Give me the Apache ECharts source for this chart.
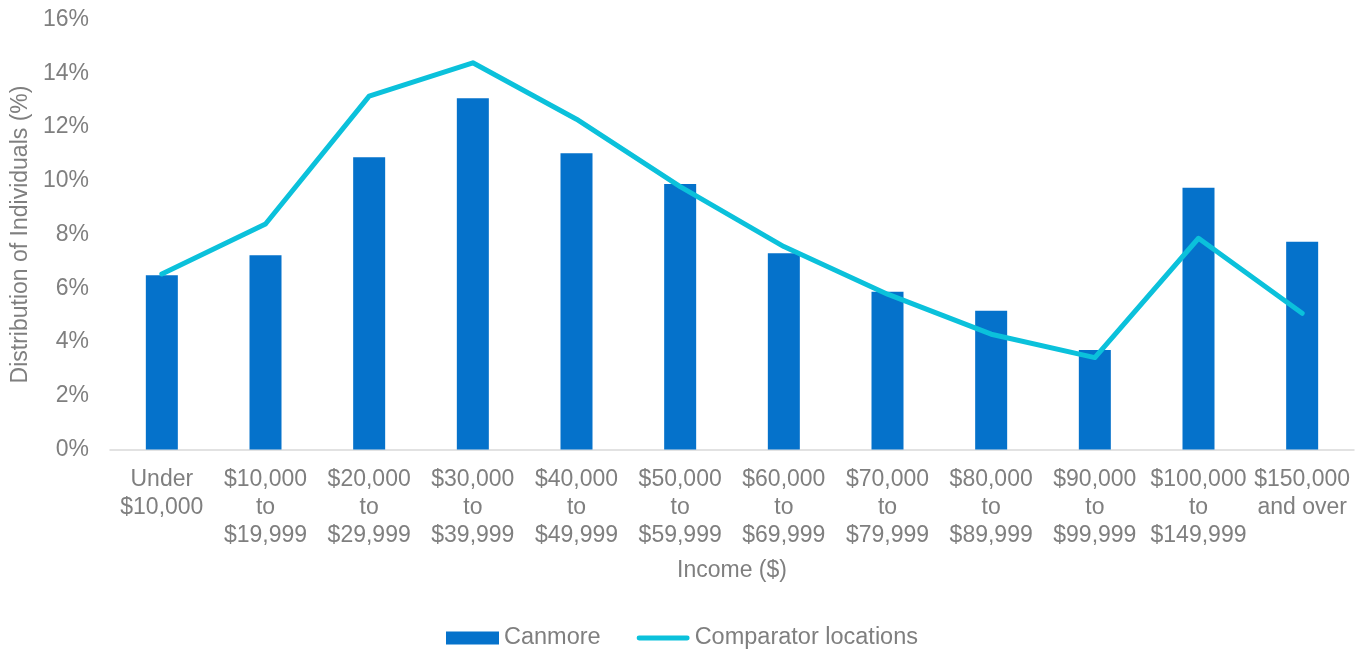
<!DOCTYPE html>
<html>
<head>
<meta charset="utf-8">
<script src="https://cdn.jsdelivr.net/npm/echarts@6/dist/echarts.min.js"></script>
<style>
html,body{margin:0;padding:0;background:#fff;}
#chart{width:1364px;height:651px;}
</style>
</head>
<body>
<div id="chart"></div>
<script>
const categories = [
  'Under\n$10,000', '$10,000\nto\n$19,999', '$20,000\nto\n$29,999', '$30,000\nto\n$39,999',
  '$40,000\nto\n$49,999', '$50,000\nto\n$59,999', '$60,000\nto\n$69,999', '$70,000\nto\n$79,999',
  '$80,000\nto\n$89,999', '$90,000\nto\n$99,999', '$100,000\nto\n$149,999', '$150,000\nand over'
];
const canmore = [6.48, 7.23, 10.87, 13.07, 11.02, 9.88, 7.30, 5.87, 5.16, 3.70, 9.74, 7.73];
const comparator = [6.53, 8.39, 13.15, 14.39, 12.29, 9.78, 7.55, 5.78, 4.29, 3.42, 7.86, 5.07];
const yTicks = { min: 0, max: 16, interval: 2 };

const textColor = '#7F7F7F';
const fontFamily = 'Liberation Sans, Arial, sans-serif';
const chart = echarts.init(document.getElementById('chart'));
chart.setOption({
  animation: false,
  textStyle: { fontFamily: fontFamily },
  grid: { left: 110, right: 10, top: 19.5, bottom: 201.5, containLabel: false },
  legend: {
    left: 'center',
    top: 621,
    itemWidth: 53,
    itemHeight: 13,
    itemGap: 36,
    symbolKeepAspect: true,
    textStyle: { color: textColor, fontSize: 23.5, fontFamily: fontFamily },
    data: [
      { name: 'Canmore', icon: 'rect' },
      { name: 'Comparator locations', icon: 'path://M2.5,0 L52.5,0 Q55,0 55,2.5 Q55,5 52.5,5 L2.5,5 Q0,5 0,2.5 Q0,0 2.5,0 Z' }
    ]
  },
  xAxis: {
    type: 'category',
    data: categories,
    boundaryGap: true,
    name: 'Income ($)',
    nameLocation: 'middle',
    nameGap: 110,
    nameTextStyle: { color: textColor, fontSize: 23, fontFamily: fontFamily },
    axisLine: { lineStyle: { color: '#D9D9D9', width: 1.5 } },
    axisTick: { show: false },
    axisLabel: { interval: 0, color: textColor, fontSize: 23, lineHeight: 28, margin: 16, fontFamily: fontFamily }
  },
  yAxis: {
    type: 'value',
    min: yTicks.min,
    max: yTicks.max,
    interval: yTicks.interval,
    name: 'Distribution of Individuals (%)',
    nameLocation: 'middle',
    nameGap: 73,
    nameTextStyle: { color: textColor, fontSize: 23, fontFamily: fontFamily },
    axisLine: { show: false },
    axisTick: { show: false },
    splitLine: { show: false },
    axisLabel: { formatter: '{value}%', color: textColor, fontSize: 23, margin: 21, fontFamily: fontFamily }
  },
  series: [
    {
      name: 'Canmore',
      type: 'bar',
      data: canmore,
      barWidth: 32,
      itemStyle: { color: '#0572CB' }
    },
    {
      name: 'Comparator locations',
      type: 'line',
      data: comparator,
      symbol: 'none',
      lineStyle: { color: '#0BC1DB', width: 5, cap: 'round', join: 'round' },
      itemStyle: { color: '#0BC1DB' }
    }
  ]
});
</script>
</body>
</html>
